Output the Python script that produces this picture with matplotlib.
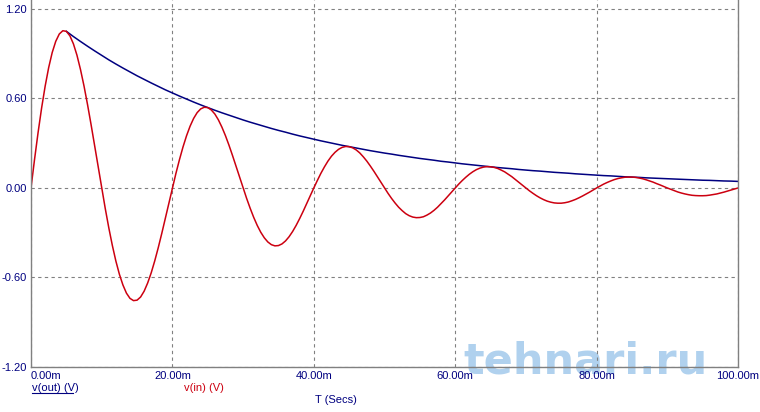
import matplotlib
matplotlib.use("Agg")
import matplotlib.pyplot as plt
from matplotlib.lines import Line2D

# time axis in ms, one sample every 0.5 ms
t_ms = [i * 0.5 for i in range(201)]

# v(in): damped sine
v_in = [
    0.000, 0.191, 0.371, 0.536, 0.682, 0.807, 0.908, 0.983, 1.032, 1.054,
    1.050, 1.020, 0.966, 0.890, 0.794, 0.683, 0.558, 0.424, 0.284, 0.141,
    0.000, -0.137, -0.266, -0.384, -0.489, -0.578, -0.650, -0.705, -0.740, -0.755,
    -0.752, -0.731, -0.692, -0.637, -0.569, -0.489, -0.400, -0.304, -0.203, -0.101,
    0.000, 0.098, 0.190, 0.275, 0.350, 0.414, 0.466, 0.505, 0.530, 0.541,
    0.539, 0.523, 0.496, 0.457, 0.408, 0.351, 0.287, 0.218, 0.146, 0.073,
    0.000, -0.070, -0.136, -0.197, -0.251, -0.297, -0.334, -0.362, -0.380, -0.388,
    -0.386, -0.375, -0.355, -0.327, -0.292, -0.251, -0.205, -0.156, -0.104, -0.052,
    0.000, 0.050, 0.098, 0.141, 0.180, 0.213, 0.239, 0.259, 0.272, 0.278,
    0.277, 0.269, 0.255, 0.235, 0.209, 0.180, 0.147, 0.112, 0.075, 0.037,
    0.000, -0.036, -0.070, -0.101, -0.129, -0.152, -0.172, -0.186, -0.195, -0.199,
    -0.198, -0.193, -0.182, -0.168, -0.150, -0.129, -0.105, -0.080, -0.054, -0.027,
    0.000, 0.026, 0.050, 0.072, 0.092, 0.109, 0.123, 0.133, 0.140, 0.143,
    0.142, 0.138, 0.131, 0.120, 0.108, 0.092, 0.076, 0.057, 0.038, 0.019,
    0.000, -0.019, -0.036, -0.052, -0.066, -0.078, -0.088, -0.095, -0.100, -0.102,
    -0.102, -0.099, -0.094, -0.086, -0.077, -0.066, -0.054, -0.041, -0.028, -0.014,
    0.000, 0.013, 0.026, 0.037, 0.047, 0.056, 0.063, 0.068, 0.072, 0.073,
    0.073, 0.071, 0.067, 0.062, 0.055, 0.047, 0.039, 0.029, 0.020, 0.010,
    0.000, -0.009, -0.018, -0.027, -0.034, -0.040, -0.045, -0.049, -0.051, -0.052,
    -0.052, -0.051, -0.048, -0.044, -0.040, -0.034, -0.028, -0.021, -0.014, -0.007,
    0.000,
]

# v(out): envelope, starts at the first peak
t_out = list(range(5, 101))
v_out = [
    1.050, 1.015, 0.982, 0.950, 0.919,
    0.889, 0.859, 0.831, 0.804, 0.778, 0.752, 0.728, 0.704, 0.681, 0.658,
    0.637, 0.616, 0.596, 0.576, 0.557, 0.539, 0.521, 0.504, 0.488, 0.472,
    0.456, 0.441, 0.427, 0.413, 0.399, 0.386, 0.374, 0.361, 0.349, 0.338,
    0.327, 0.316, 0.306, 0.296, 0.286, 0.277, 0.268, 0.259, 0.250, 0.242,
    0.234, 0.227, 0.219, 0.212, 0.205, 0.198, 0.192, 0.186, 0.179, 0.174,
    0.168, 0.162, 0.157, 0.152, 0.147, 0.142, 0.137, 0.133, 0.129, 0.124,
    0.120, 0.116, 0.113, 0.109, 0.105, 0.102, 0.099, 0.095, 0.092, 0.089,
    0.086, 0.083, 0.081, 0.078, 0.075, 0.073, 0.071, 0.068, 0.066, 0.064,
    0.062, 0.060, 0.058, 0.056, 0.054, 0.052, 0.051, 0.049, 0.047, 0.046,
    0.044,
]

x_ticks = [0, 20, 40, 60, 80, 100]
x_labels = ["0.00m", "20.00m", "40.00m", "60.00m", "80.00m", "100.00m"]
y_ticks = [-1.2, -0.6, 0.0, 0.6, 1.2]
y_labels = ["-1.20", "-0.60", "0.00", "0.60", "1.20"]

navy = "#000080"
red = "#cc0010"
gray = "#808080"

plt.rcParams["font.family"] = ["Liberation Sans", "DejaVu Sans"]

fig = plt.figure(figsize=(7.6, 4.12), dpi=100)
ax = fig.add_axes([31 / 760, 45 / 412, 707 / 760, 367 / 412])
ax.patch.set_alpha(0)

ax.plot(t_out, v_out, color=navy, lw=1.1)
ax.plot(t_ms, v_in, color=red, lw=1.1)

ax.set_xlim(0, 100)
ax.set_ylim(-1.2, 1.26)

ax.set_xticks(x_ticks)
ax.set_xticklabels(x_labels, color=navy, fontsize=8)
ax.set_yticks(y_ticks)
ax.set_yticklabels(y_labels, color=navy, fontsize=8)
ax.get_xticklabels()[0].set_ha("left")
ax.tick_params(length=0, pad=3)

ax.grid(True, color=gray, linestyle=(0, (3, 3)), lw=0.8)
ax.spines["top"].set_visible(False)
for s in ["left", "right", "bottom"]:
    ax.spines[s].set_color(gray)
    ax.spines[s].set_linewidth(1.0)

# watermark, drawn under the axes so the spine and tick labels sit on top
fig.text(585 / 760, 1 - 361 / 412, "tehnari.ru", ha="center", va="center",
         fontsize=31, fontweight="bold", family="DejaVu Sans",
         color="#9cc6ea", alpha=0.8, zorder=-1)

# trace labels under the axis
fig.text(32 / 760, 1 - 388 / 412, "v(out) (V)", color=navy, fontsize=8,
         ha="left", va="center")
fig.add_artist(Line2D([32 / 760, 73 / 760], [1 - 393 / 412, 1 - 393 / 412],
                      color=navy, lw=0.8))
fig.text(184 / 760, 1 - 388 / 412, "v(in) (V)", color=red, fontsize=8,
         ha="left", va="center")
fig.text(315 / 760, 1 - 400 / 412, "T (Secs)", color=navy, fontsize=8,
         ha="left", va="center")

fig.savefig("out.png", dpi=100)
